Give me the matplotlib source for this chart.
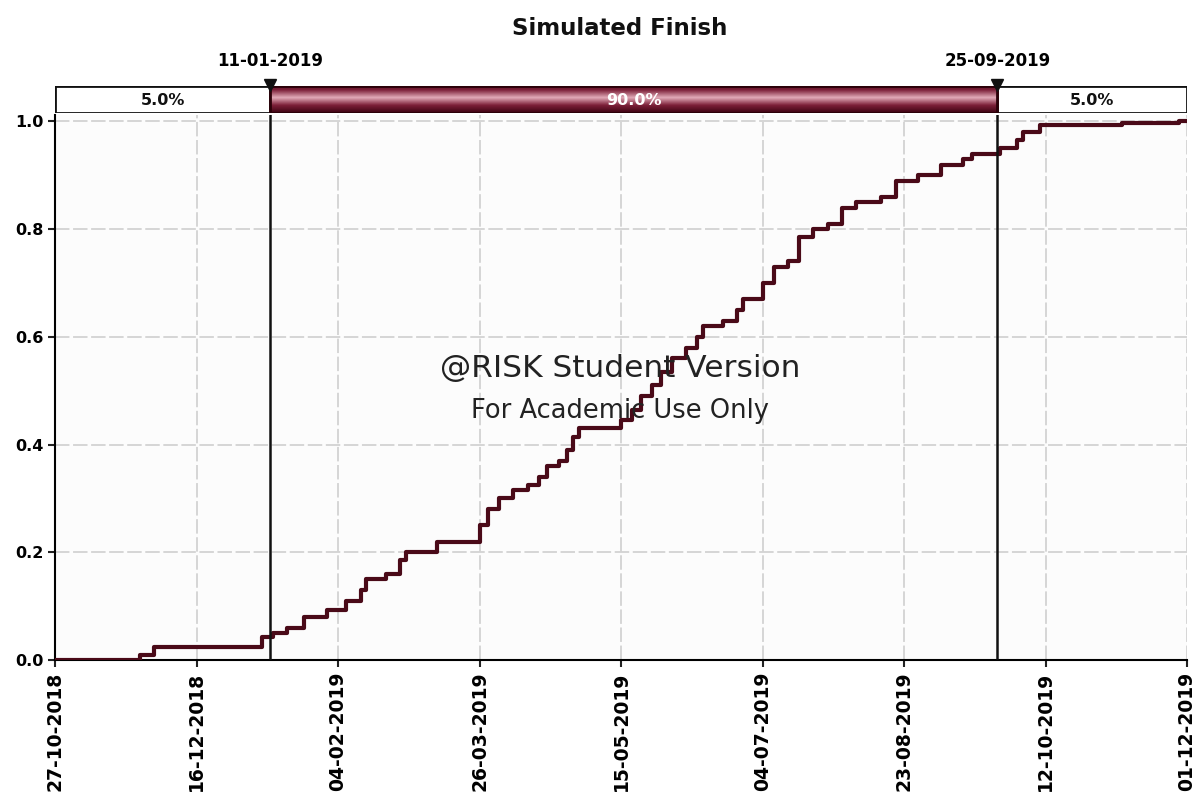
import matplotlib.pyplot as plt
import matplotlib.dates as mdates
import numpy as np
import pandas as pd
from matplotlib.patches import Rectangle
from matplotlib.colors import LinearSegmentedColormap

# step points of the simulated finish-date CDF
step_dates = ['2018-10-27', '2018-11-26', '2018-12-01', '2019-01-08', '2019-01-12',
              '2019-01-17', '2019-01-23', '2019-01-31', '2019-02-07', '2019-02-12',
              '2019-02-14', '2019-02-21', '2019-02-26', '2019-02-28', '2019-03-11',
              '2019-03-26', '2019-03-29', '2019-04-02', '2019-04-07', '2019-04-12',
              '2019-04-16', '2019-04-19', '2019-04-23', '2019-04-26', '2019-04-28',
              '2019-04-30', '2019-05-15', '2019-05-19', '2019-05-22', '2019-05-26',
              '2019-05-29', '2019-06-02', '2019-06-07', '2019-06-11', '2019-06-13',
              '2019-06-20', '2019-06-25', '2019-06-27', '2019-07-04', '2019-07-08',
              '2019-07-13', '2019-07-17', '2019-07-22', '2019-07-27', '2019-08-01',
              '2019-08-06', '2019-08-15', '2019-08-20', '2019-08-28', '2019-09-05',
              '2019-09-13', '2019-09-16', '2019-09-26', '2019-10-02', '2019-10-04',
              '2019-10-10', '2019-11-08', '2019-11-28', '2019-12-01']
cum_prob = [0.0, 0.01, 0.025, 0.043, 0.05,
            0.06, 0.08, 0.093, 0.11, 0.13,
            0.15, 0.16, 0.185, 0.20, 0.22,
            0.25, 0.28, 0.30, 0.315, 0.325,
            0.34, 0.36, 0.37, 0.39, 0.415,
            0.43, 0.445, 0.465, 0.49, 0.51,
            0.535, 0.56, 0.58, 0.60, 0.62,
            0.63, 0.65, 0.67, 0.70, 0.73,
            0.74, 0.785, 0.80, 0.81, 0.84,
            0.85, 0.86, 0.89, 0.90, 0.92,
            0.93, 0.94, 0.95, 0.965, 0.98,
            0.993, 0.998, 1.0, 1.0]

tick_dates = ['2018-10-27', '2018-12-16', '2019-02-04', '2019-03-26', '2019-05-15',
              '2019-07-04', '2019-08-23', '2019-10-12', '2019-12-01']
y_ticks = [0.0, 0.2, 0.4, 0.6, 0.8, 1.0]

lower_date = '2019-01-11'
upper_date = '2019-09-25'
band_labels = ['5.0%', '90.0%', '5.0%']

curve_color = '#4a0a18'
band_color = '#7c1f38'

x = pd.to_datetime(step_dates)
ticks = pd.to_datetime(tick_dates)
lo = mdates.date2num(pd.Timestamp(lower_date))
hi = mdates.date2num(pd.Timestamp(upper_date))
xmin = mdates.date2num(ticks[0])
xmax = mdates.date2num(ticks[-1])

fig = plt.figure(figsize=(11.97, 8.01), dpi=100)
ax = fig.add_axes([55 / 1197, 141 / 801, 1132 / 1197, 545 / 801])
ax.set_facecolor('#fcfcfc')

ax.step(x, cum_prob, where='post', color=curve_color, lw=3, zorder=3)
ax.axvline(lo, color='#111111', lw=1.8, zorder=4)
ax.axvline(hi, color='#111111', lw=1.8, zorder=4)

ax.set_xlim(xmin, xmax)
ax.set_ylim(0, 1.012)
ax.set_xticks(mdates.date2num(ticks))
ax.set_xticklabels([t.strftime('%d-%m-%Y') for t in ticks], rotation=90,
                   fontsize=13.5, fontweight='bold')
ax.set_yticks(y_ticks)
ax.set_yticklabels([f'{v:.1f}' for v in y_ticks], fontsize=11.5, fontweight='bold')
ax.grid(True, color='#d2d2d2', lw=1.3, ls=(0, (8, 2)))
ax.set_axisbelow(True)
for side in ['top', 'right']:
    ax.spines[side].set_visible(False)
ax.spines['left'].set_linewidth(1.5)
ax.spines['bottom'].set_linewidth(1.5)
ax.tick_params(length=5, width=1.5, color='#222222')

# percentile band above the plot
bax = fig.add_axes([55 / 1197, 688 / 801, 1132 / 1197, 27 / 801], sharex=ax)
bax.set_ylim(0, 1)
bax.axis('off')
bax.add_patch(Rectangle((xmin, 0), lo - xmin, 1, fc='white', ec='#111111', lw=2))
bax.add_patch(Rectangle((hi, 0), xmax - hi, 1, fc='white', ec='#111111', lw=2))
grad = np.abs(np.linspace(-1, 1, 50) + 0.15)[:, None]
cmap = LinearSegmentedColormap.from_list('band', ['#e0a9b6', band_color, '#3d0412'])
bax.imshow(grad, extent=(lo, hi, 0, 1), aspect='auto', cmap=cmap, zorder=1)
bax.add_patch(Rectangle((lo, 0), hi - lo, 1, fc='none', ec='#2a0008', lw=2, zorder=2))
bax.set_xlim(xmin, xmax)
mids = [(xmin + lo) / 2, (lo + hi) / 2, (hi + xmax) / 2]
for m, lab, c in zip(mids, band_labels, ['#111111', 'white', '#111111']):
    bax.text(m, 0.45, lab, ha='center', va='center', fontsize=11.5, color=c,
             fontweight='bold', zorder=3)
for d, lab in [(lo, lower_date), (hi, upper_date)]:
    bax.plot([d], [1.05], marker='v', color='#111111', ms=9, clip_on=False, zorder=4)
    bax.text(d, 1.6, pd.Timestamp(lab).strftime('%d-%m-%Y'), ha='center', va='bottom',
             fontsize=12, fontweight='bold')

fig.text(0.518, 0.965, 'Simulated Finish', ha='center', va='center', fontsize=16.5,
         fontweight='bold', color='#111111')
fig.text(0.518, 0.54, '@RISK Student Version', ha='center', va='center', fontsize=22.5,
         color='#222222', zorder=5)
fig.text(0.518, 0.487, 'For Academic Use Only', ha='center', va='center', fontsize=18.5,
         color='#222222', zorder=5)

fig.savefig('out.png', dpi=100, facecolor='white')
